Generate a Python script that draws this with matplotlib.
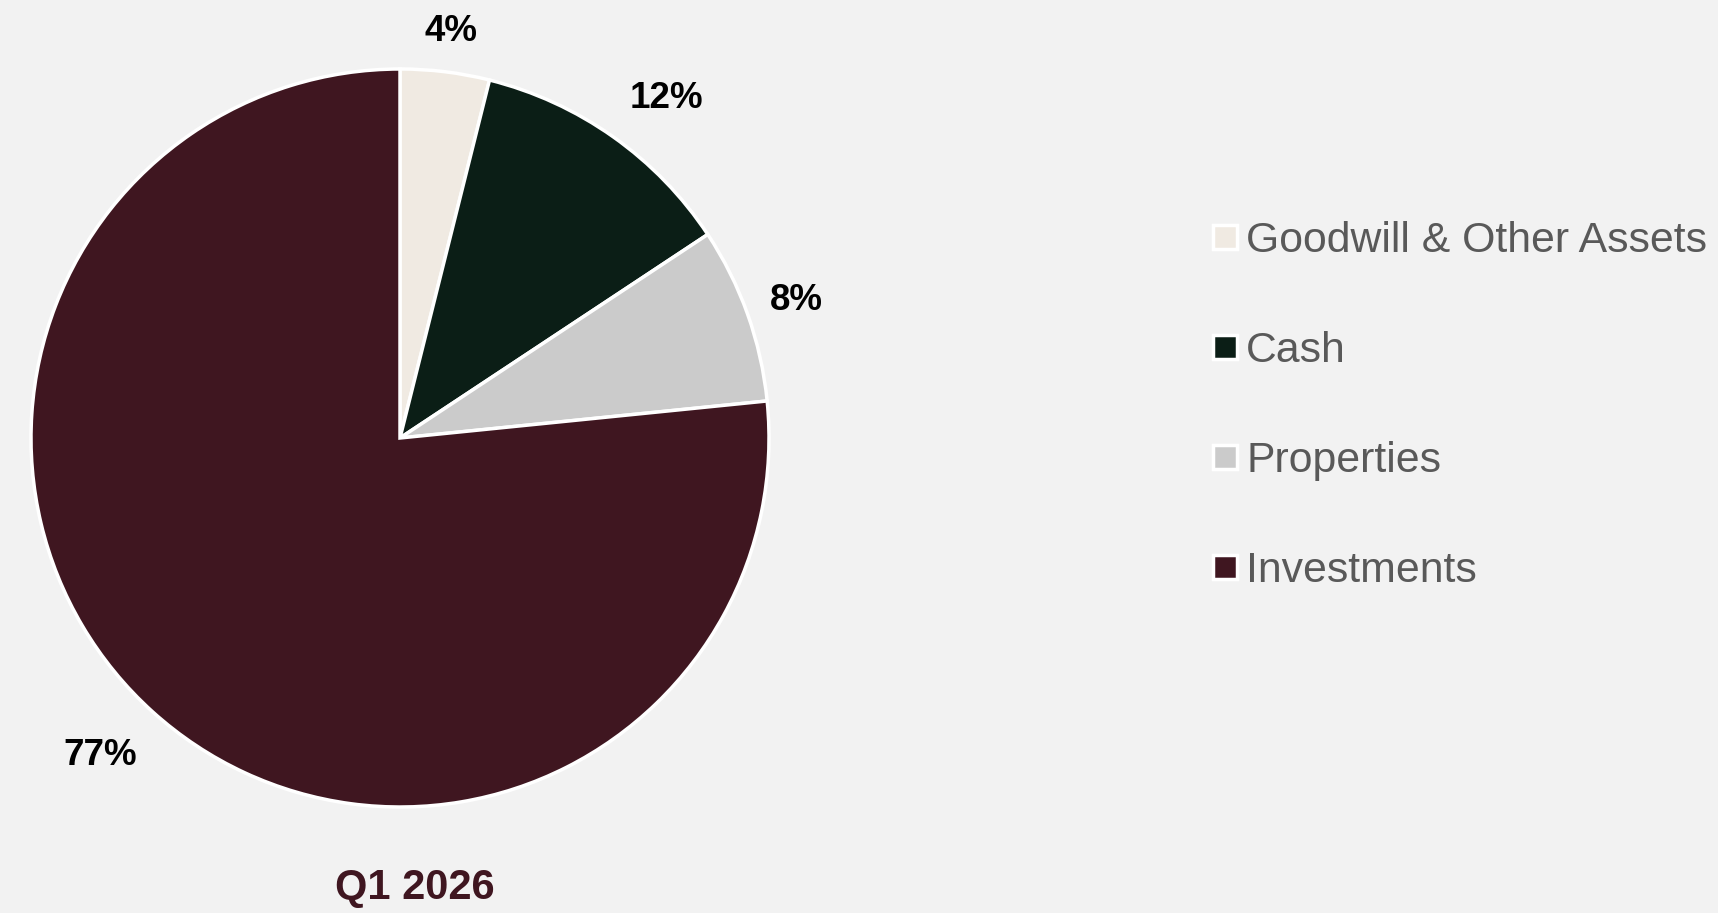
import matplotlib
matplotlib.use("Agg")
import numpy as np
import matplotlib.pyplot as plt
from matplotlib.patches import Rectangle

# ---- data ----
categories = ["Goodwill & Other Assets", "Cash", "Properties", "Investments"]
shares = [3.9, 11.8, 7.7, 76.6]
colors = ["#F0EAE2", "#0B1E16", "#CBCBCB", "#3F1620"]
title = "Q1 2026"

# label placement (style): radial distance and angular nudge (deg), per wedge
label_dist = [1.12, 1.177, 1.14, 1.175]
label_nudge = [0.0, -2.5, 0.0, -1.6]

W, H = 1718, 913
BG = "#F2F2F2"

fig = plt.figure(figsize=(W / 100, H / 100), dpi=100, facecolor=BG)

# pie axes: center (400, 438) px from top-left, radius 369 px
cx, cy, r = 400, 438, 369
ax = fig.add_axes([(cx - r) / W, (H - cy - r) / H, 2 * r / W, 2 * r / H])
ax.set_facecolor(BG)

wedges, _, autotexts = ax.pie(
    shares,
    colors=colors,
    startangle=90,
    counterclock=False,
    radius=1.0,
    autopct=lambda p: f"{round(p):d}%",
    pctdistance=1.15,
    wedgeprops=dict(edgecolor="white", linewidth=2.5),
    textprops=dict(family="Liberation Sans", fontweight="bold", fontsize=26.5, color="black"),
)
for w, t, d, n in zip(wedges, autotexts, label_dist, label_nudge):
    mid = np.deg2rad((w.theta1 + w.theta2) / 2 + n)
    t.set_position((d * np.cos(mid), d * np.sin(mid)))
    t.set_va("center_baseline")
    t.set_ha("center")

ax.set_xlim(-1, 1)
ax.set_ylim(-1, 1)
ax.set_aspect("equal")
ax.axis("off")

# title below the pie
fig.text(415 / W, (H - 899) / H, title, ha="center", va="baseline",
         family="Liberation Sans", fontweight="bold", fontsize=30, color="#3F1620")

# legend (manual, right side)
row_y = [237, 347, 457, 567]
for lab, col, yc in zip(categories, colors, row_y):
    s = 24
    fig.add_artist(Rectangle(((1213) / W, (H - yc - s / 2) / H), s / W, s / H,
                             transform=fig.transFigure, facecolor=col,
                             edgecolor="white", linewidth=2.5))
    fig.text(1246 / W, (H - yc - 15) / H, lab, ha="left", va="baseline",
             family="Liberation Sans", fontsize=30.8, color="#595959")

fig.savefig("out.png", dpi=100, facecolor=BG)
